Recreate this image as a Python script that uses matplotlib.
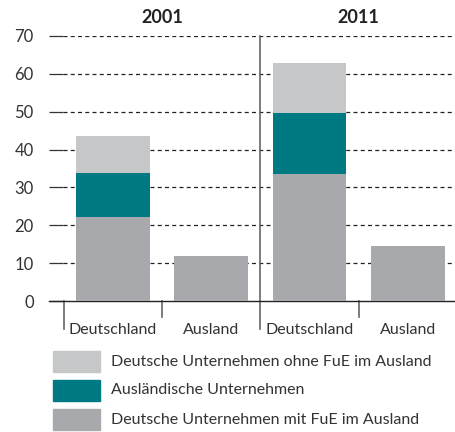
import matplotlib
matplotlib.use("Agg")
import matplotlib.pyplot as plt
from matplotlib.patches import Rectangle

plt.rcParams['font.family'] = ['Lato', 'DejaVu Sans']

years = ["2001", "2011"]
categories = ["Deutschland", "Ausland", "Deutschland", "Ausland"]
series_names = ["Deutsche Unternehmen mit FuE im Ausland",
                "Ausländische Unternehmen",
                "Deutsche Unternehmen ohne FuE im Ausland"]
mit_fue = [22.2, 11.9, 33.6, 14.6]
auslaendisch = [11.6, 0, 16.0, 0]
ohne_fue = [9.7, 0, 13.3, 0]
colors = ["#a8a9ad", "#007a82", "#c6c7c9"]
yticks = [0, 10, 20, 30, 40, 50, 60, 70]

fig = plt.figure(figsize=(4.56, 4.32), dpi=100)
ax = fig.add_axes([49/456, 1-301/432, 1-49/456, (301-36)/432])
ax.set_xlim(-0.651, 3.49)
ax.set_ylim(0, 70)

xs = list(range(len(categories)))
bottom = [0]*len(xs)
for vals, col in zip([mit_fue, auslaendisch, ohne_fue], colors):
    ax.bar(xs, vals, width=0.75, bottom=bottom, color=col, zorder=3, linewidth=0)
    bottom = [b+v for b, v in zip(bottom, vals)]

for y in yticks[1:]:
    ax.axhline(y, xmin=(-0.505+0.651)/(3.49+0.651), xmax=1, color="#222222",
               lw=0.9, ls=(0, (3.2, 2.6)), zorder=1)

for s in ["top", "right", "left"]:
    ax.spines[s].set_visible(False)
ax.spines["bottom"].set_color("#222222")
ax.spines["bottom"].set_linewidth(1.0)

ax.set_yticks(yticks)
ax.set_yticklabels([str(v) for v in yticks], fontsize=12, color="#333333")
ax.tick_params(axis='y', direction='in', length=10.3, width=0.9, color="#333333", pad=11)

ax.set_xticks(xs)
ax.set_xticklabels(categories, fontsize=11.5, color="#333333")
ax.tick_params(axis='x', length=0, pad=16)

# separators
ax.plot([1.5, 1.5], [-7.3, 70], color="#666666", lw=1.2, clip_on=False, zorder=2)
for xp, yb in [(-0.5, -7.3), (0.5, -4.2), (2.5, -4.2)]:
    ax.plot([xp, xp], [yb, 0], color="#666666", lw=1.2, clip_on=False)

for i, yr in enumerate(years):
    ax.text(0.5 + 2*i, 72.6, yr, ha="center", va="bottom", fontsize=13,
            fontweight="bold", color="#222222")

# legend
legend_order = [2, 1, 0]
ys = [351, 380, 409]
for yy, idx in zip(ys, legend_order):
    fig.patches.append(Rectangle((53/456, 1-(yy+21)/432), 47/456, 21/432,
                                 transform=fig.transFigure, color=colors[idx]))
    fig.text(111/456, 1-(yy+10.5)/432, series_names[idx], fontsize=11.5,
             va="center", ha="left", color="#333333")

fig.savefig("out.png", dpi=100)
